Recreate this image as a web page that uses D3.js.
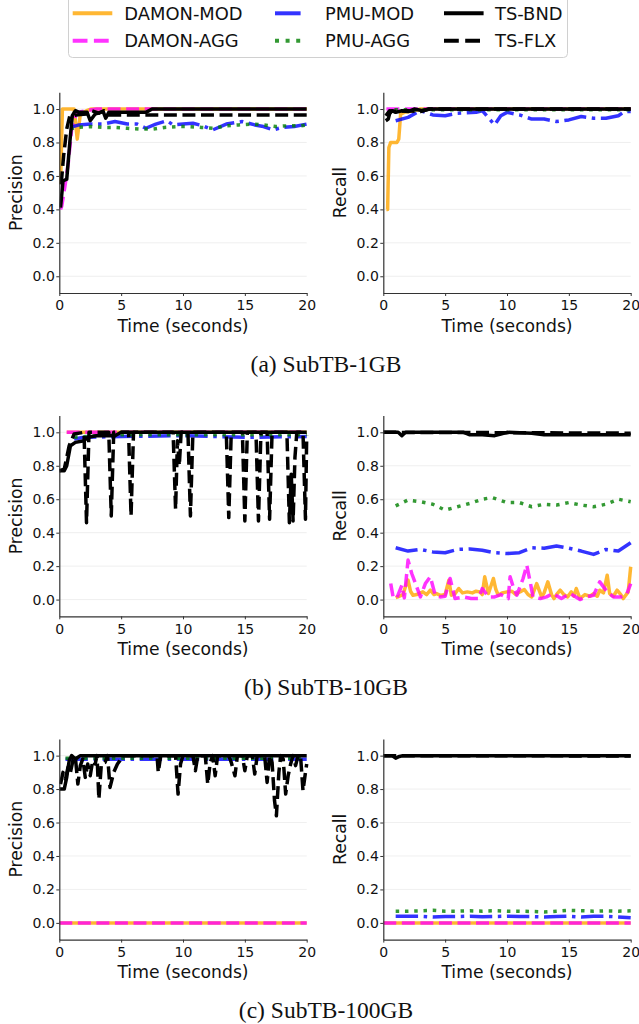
<!DOCTYPE html>
<html><head><meta charset="utf-8">
<script src="https://cdn.jsdelivr.net/npm/d3@7"></script>
<style>
html,body{margin:0;padding:0;background:#fff;}
svg{display:block;}
</style></head>
<body>
<svg id="chart" width="639" height="1024"></svg>
<script>
// ---------- labels ----------
const seriesNames = ["DAMON-MOD","DAMON-AGG","PMU-MOD","PMU-AGG","TS-BND","TS-FLX"];
const captions = ["(a) SubTB-1GB","(b) SubTB-10GB","(c) SubTB-100GB"];
const yTicks = [0.0,0.2,0.4,0.6,0.8,1.0];
const xTicks = [0,5,10,15,20];
const xLabel = "Time (seconds)";
const yLabels = ["Precision","Recall"];

// ---------- data: [time (s), value] ----------
// (a) SubTB-1GB precision
const a_p_damon_mod = [[0.1,0.55],[0.25,1.0],[1.2,1.0],[1.45,0.82],[1.7,0.97],[2.2,0.99],[2.6,1.0],[20,1.0]];
const a_p_damon_agg = [[0.1,0.4],[0.2,0.42],[0.46,0.54],[0.73,0.68],[1.0,0.88],[1.4,0.98],[2.2,0.99],[3.0,1.0],[20,1.0]];
const a_p_pmu_mod = [[0.9,0.89],[1.6,0.905],[2.5,0.91],[3.5,0.91],[4.5,0.925],[5.5,0.91],[6.3,0.91],[7.0,0.885],[7.8,0.91],[8.7,0.93],[9.2,0.905],[10,0.91],[10.8,0.915],[11.6,0.9],[12.4,0.875],[13.5,0.91],[14.8,0.925],[15.8,0.905],[16.5,0.895],[17.3,0.875],[18,0.89],[19,0.895],[20,0.91]];
const a_p_pmu_agg = [[0.9,0.88],[1.4,0.89],[2.5,0.895],[3.5,0.89],[4.5,0.89],[5.5,0.885],[6.5,0.88],[7.5,0.88],[8.5,0.89],[9.5,0.895],[10.5,0.895],[11.5,0.89],[12.5,0.885],[13.5,0.9],[14.5,0.905],[15.5,0.91],[16.5,0.905],[17.5,0.895],[18.5,0.9],[19.5,0.9],[20,0.905]];
const a_p_ts_bnd = [[0.1,0.41],[0.3,0.57],[0.6,0.58],[0.85,0.8],[1.05,0.96],[1.3,0.99],[1.6,0.98],[2.25,0.98],[2.5,0.93],[2.9,0.97],[3.3,0.98],[3.55,0.985],[3.75,0.945],[4.0,0.98],[7.0,0.98],[7.5,1.0],[20,1.0]];
const a_p_ts_flx = [[0.15,0.55],[0.35,0.72],[0.6,0.88],[0.85,0.96],[1.5,0.965],[2.2,0.97],[2.6,0.99],[3.2,0.975],[3.6,0.99],[4.0,0.965],[20,0.965]];
// (a) SubTB-1GB recall
const a_r_damon_mod = [[0.25,0.4],[0.35,0.4],[0.45,0.77],[0.6,0.8],[1.1,0.8],[1.25,0.82],[1.4,0.97],[1.7,0.98],[2.5,0.99],[3,1.0],[20,1.0]];
const a_r_damon_agg = [[0.25,1.0],[20,1.0]];
const a_r_pmu_mod = [[1,0.93],[2,0.95],[3,0.99],[4,0.965],[5,0.96],[6,0.975],[7.5,0.98],[8,0.99],[9,0.905],[9.5,0.96],[10,0.98],[11,0.965],[12,0.94],[13,0.94],[14,0.925],[15,0.935],[16,0.955],[17,0.945],[18,0.945],[19,0.96],[19.5,0.985],[20,0.985]];
const a_r_pmu_agg = [[0.9,0.995],[20,0.995]];
const a_r_ts_bnd = [[0.2,0.93],[0.4,0.94],[0.5,0.97],[0.7,0.99],[1.0,0.98],[1.5,0.99],[2,0.985],[2.5,1.0],[3.2,0.99],[3.7,1.0],[20,1.0]];
const a_r_ts_flx = [[0.2,0.96],[0.5,0.99],[1,0.985],[2,0.99],[3,0.985],[3.7,1.0],[20,1.0]];
// (b) SubTB-10GB precision
const b_p_damon_mod = [[0.6,1.0],[20,1.0]];
const b_p_damon_agg = [[0.6,1.0],[20,1.0]];
const b_p_pmu_mod = [[1.2,0.96],[2,0.97],[5,0.975],[10,0.98],[15,0.97],[20,0.975]];
const b_p_pmu_agg = [[1.2,0.97],[3,0.98],[5,0.985],[10,0.985],[15,0.985],[20,0.985]];
const b_p_ts_bnd = [[0,0.77],[0.4,0.77],[0.6,0.8],[0.9,0.92],[1.3,0.94],[2.0,0.95],[2.3,0.97],[3.0,0.98],[4.5,0.98],[5.0,1.0],[20,1.0]];
const b_p_ts_flx = [[0,0.77],[0.4,0.78],[0.8,0.92],[1.2,0.99],[2.0,1.0],[2.2,0.46],[2.4,1.0],[4.0,1.0],[4.2,0.5],[4.4,1.0],[5.6,1.0],[5.8,0.5],[6.0,1.0],[9.2,1.0],[9.4,0.54],[9.55,0.95],[9.7,0.8],[9.85,1.0],[10.4,1.0],[10.6,0.5],[10.8,1.0],[13.5,1.0],[13.7,0.49],[13.9,1.0],[14.8,1.0],[15.0,0.47],[15.2,1.0],[15.9,1.0],[16.1,0.47],[16.3,1.0],[16.8,1.0],[17.0,0.48],[17.2,1.0],[18.4,1.0],[18.6,0.46],[18.75,0.75],[18.9,0.47],[19.05,0.85],[19.2,1.0],[19.7,1.0],[19.9,0.48],[20,0.98]];
// (b) SubTB-10GB recall
const b_r_damon_mod = [[1.0,0.012],[1.3,0.02],[1.6,0.03],[1.8,0.08],[2.0,0.116],[2.2,0.05],[2.4,0.026],[2.7,0.03],[3.0,0.04],[3.2,0.046],[3.5,0.03],[3.8,0.056],[4.1,0.03],[4.3,0.036],[4.6,0.025],[5.0,0.03],[5.3,0.116],[5.5,0.026],[5.8,0.035],[6.1,0.066],[6.4,0.04],[6.8,0.046],[7.2,0.04],[7.5,0.05],[7.8,0.046],[8.0,0.03],[8.2,0.136],[8.5,0.036],[8.9,0.126],[9.1,0.06],[9.3,0.026],[9.6,0.04],[10.0,0.046],[10.4,0.05],[10.7,0.03],[11.05,0.046],[11.4,0.06],[11.7,0.03],[12.0,0.016],[12.4,0.096],[12.8,0.016],[13.0,0.04],[13.3,0.106],[13.6,0.03],[13.8,0.006],[14.0,0.03],[14.3,0.056],[14.6,0.03],[14.9,0.016],[15.2,0.046],[15.4,0.02],[15.6,0.066],[15.9,0.006],[16.3,0.03],[16.7,0.02],[17.0,0.036],[17.3,0.02],[17.5,0.056],[17.8,0.04],[18.1,0.146],[18.3,0.036],[18.6,0.02],[18.9,0.056],[19.2,0.03],[19.4,0.006],[19.8,0.046],[20.0,0.196]];
const b_r_damon_agg = [[0.6,0.096],[0.8,0.012],[1.1,0.01],[1.5,0.086],[1.7,0.01],[2.0,0.236],[2.3,0.156],[2.7,0.076],[3.0,0.016],[3.4,0.096],[3.8,0.136],[4.2,0.026],[4.6,0.016],[5.0,0.02],[5.4,0.126],[5.8,0.006],[6.5,0.016],[7.1,0.006],[7.7,0.006],[8.0,0.066],[8.5,0.016],[9.0,0.016],[9.5,0.03],[10.1,0.006],[10.25,0.136],[10.5,0.076],[10.8,0.026],[11.3,0.126],[11.6,0.206],[11.9,0.096],[12.1,0.016],[12.7,0.006],[13.2,0.016],[13.7,0.036],[14.4,0.006],[15.1,0.036],[15.9,0.0],[16.4,0.016],[17.0,0.026],[17.5,0.106],[18.1,0.046],[18.6,0.016],[19.2,0.016],[19.7,0.036],[20.0,0.096]];
const b_r_pmu_mod = [[1,0.31],[2,0.29],[3,0.30],[4,0.285],[5,0.28],[6,0.30],[7,0.303],[8,0.295],[9,0.28],[10,0.275],[11,0.28],[12,0.31],[13,0.307],[14,0.32],[15,0.307],[16,0.29],[17,0.27],[18,0.30],[19,0.29],[20,0.34]];
const b_r_pmu_agg = [[1,0.56],[2,0.595],[3,0.585],[4,0.57],[5,0.535],[6,0.555],[7,0.575],[8,0.6],[8.8,0.61],[10,0.58],[11,0.58],[12,0.555],[13,0.57],[14,0.565],[15,0.58],[16,0.565],[17,0.555],[18,0.57],[19,0.6],[20,0.585]];
const b_r_ts_bnd = [[0,1.0],[1.2,1.0],[1.5,0.98],[1.8,1.0],[6.5,1.0],[7.0,0.985],[8,0.985],[9,0.98],[9.5,0.99],[10,1.0],[12,0.995],[13,0.985],[15,0.985],[20,0.985]];
const b_r_ts_flx = [[0,1.0],[10,0.998],[20,0.995]];
// (c) SubTB-100GB precision
const c_p_damon_mod = [[0,0.0],[20,0.0]];
const c_p_damon_agg = [[0,0.0],[20,0.0]];
const c_p_pmu_mod = [[0.5,0.978],[5,0.978],[10,0.978],[15,0.978],[20,0.978]];
const c_p_pmu_agg = [[0.5,0.984],[5,0.984],[10,0.984],[15,0.984],[20,0.984]];
const c_p_ts_bnd = [[0,0.8],[0.4,0.8],[0.6,0.87],[0.8,0.97],[1.0,1.0],[1.3,0.98],[1.7,1.0],[20,1.0]];
const c_p_ts_flx = [[0.1,0.83],[0.3,0.9],[0.5,0.86],[0.7,0.93],[0.9,0.9],[1.1,0.97],[1.3,0.99],[1.5,0.83],[1.7,0.94],[1.9,0.98],[2.1,0.87],[2.3,0.95],[2.5,0.88],[2.7,0.97],[2.9,0.95],[3.05,1.0],[3.2,0.74],[3.4,0.95],[3.7,0.96],[3.9,1.0],[4.1,0.81],[4.4,0.9],[4.7,0.95],[4.9,0.97],[5.1,1.0],[7.9,1.0],[8.0,0.9],[8.2,1.0],[9.4,1.0],[9.6,0.77],[9.8,0.95],[10.0,1.0],[10.8,1.0],[11.0,0.91],[11.2,1.0],[11.8,1.0],[12.0,0.83],[12.2,0.96],[12.4,1.0],[12.6,0.88],[12.8,1.0],[13.7,1.0],[13.9,0.96],[14.2,0.88],[14.4,1.0],[14.8,1.0],[15.0,0.91],[15.2,1.0],[15.6,1.0],[15.8,0.89],[16.0,1.0],[16.6,1.0],[16.8,0.84],[17.0,1.0],[17.2,0.96],[17.4,0.73],[17.55,0.64],[17.75,0.9],[17.9,1.0],[18.1,0.98],[18.3,0.77],[18.5,0.88],[18.7,0.95],[18.9,1.0],[19.1,0.94],[19.3,1.0],[19.5,1.0],[19.7,0.79],[19.9,0.9],[20,0.95]];
// (c) SubTB-100GB recall
const c_r_damon_mod = [[0,0.0],[20,0.0]];
const c_r_damon_agg = [[0,0.0],[20,0.0]];
const c_r_pmu_mod = [[1,0.04],[2,0.04],[3,0.04],[4,0.035],[5,0.038],[6,0.038],[7,0.04],[8,0.037],[9,0.038],[10,0.04],[11,0.038],[12,0.038],[13,0.035],[14,0.038],[15,0.04],[16,0.035],[17,0.04],[18,0.04],[19,0.035],[20,0.03]];
const c_r_pmu_agg = [[1,0.07],[2,0.07],[3,0.072],[4,0.075],[5,0.07],[6,0.07],[7,0.072],[8,0.07],[9,0.073],[10,0.07],[11,0.07],[12,0.068],[13,0.065],[14,0.07],[15,0.075],[16,0.073],[17,0.07],[18,0.072],[19,0.07],[20,0.072]];
const c_r_ts_bnd = [[0,1.0],[0.7,1.0],[1.0,0.985],[1.3,0.995],[1.6,1.0],[20,1.0]];
const c_r_ts_flx = [[0,1.0],[20,0.998]];

// ---------- styles ----------
const LW = 3.5;
const styles = [
  {color:"#FFA500", op:0.8, dash:null},
  {color:"#FF00FF", op:0.8, dash:[3.7,1.6]},
  {color:"#0000FF", op:0.8, dash:[6.4,1.6,1,1.6]},
  {color:"#008000", op:0.8, dash:[1,1.65]},
  {color:"#000000", op:1, dash:null},
  {color:"#000000", op:1, dash:[3.7,1.6]}
];

const panelData = [
  [[a_p_damon_mod,a_p_damon_agg,a_p_pmu_mod,a_p_pmu_agg,a_p_ts_bnd,a_p_ts_flx],
   [a_r_damon_mod,a_r_damon_agg,a_r_pmu_mod,a_r_pmu_agg,a_r_ts_bnd,a_r_ts_flx]],
  [[b_p_damon_mod,b_p_damon_agg,b_p_pmu_mod,b_p_pmu_agg,b_p_ts_bnd,b_p_ts_flx],
   [b_r_damon_mod,b_r_damon_agg,b_r_pmu_mod,b_r_pmu_agg,b_r_ts_bnd,b_r_ts_flx]],
  [[c_p_damon_mod,c_p_damon_agg,c_p_pmu_mod,c_p_pmu_agg,c_p_ts_bnd,c_p_ts_flx],
   [c_r_damon_mod,c_r_damon_agg,c_r_pmu_mod,c_r_pmu_agg,c_r_ts_bnd,c_r_ts_flx]]
];

const svg = d3.select("#chart");
const FONT = "DejaVu Sans, sans-serif";

// ---------- legend ----------
const lg = svg.append("g");
lg.append("rect").attr("x",68.5).attr("y",-6).attr("width",499).attr("height",63.5)
  .attr("rx",4).attr("fill","#fff").attr("stroke","#d0d0d0").attr("stroke-width",1);
const colX = [72.7, 275, 444];
const rowY = [13.3, 40.7];
seriesNames.forEach((name,i)=>{
  const c = Math.floor(i/2), r = i%2, st = styles[i];
  const lw = 4;
  const x0 = colX[c], x1 = colX[c] + (c===1 ? 28 : 39.6);
  const ln = lg.append("line").attr("x1",x0).attr("x2",x1).attr("y1",rowY[r]).attr("y2",rowY[r])
    .attr("stroke",st.color).attr("stroke-opacity",st.op).attr("stroke-width",lw);
  if(st.dash) ln.attr("stroke-dasharray",st.dash.map(d=>d*lw).join(","));
  lg.append("text").attr("x",[124.3,325,495][c]).attr("y",rowY[r]).attr("dy","0.36em")
    .attr("font-family",FONT).attr("font-size","17.9px").attr("fill","#111").text(name);
});

// ---------- panels ----------
const colLeft = [59.3, 383.3];
const plotW = 247.4;
const rowTop = [92.3, 415.6, 738.9];
const plotH = 200.7;

panelData.forEach((row,ri)=>{
  row.forEach((seriesSet,ci)=>{
    const x0 = colLeft[ci], y0 = rowTop[ri];
    const x = d3.scaleLinear().domain([0,20]).range([x0, x0+plotW]);
    const y = d3.scaleLinear().domain([-0.1,1.1]).range([y0+plotH, y0]);
    const g = svg.append("g");
    // grid
    g.selectAll("line.grid").data(yTicks).enter().append("line")
      .attr("x1",x0).attr("x2",x0+plotW).attr("y1",d=>y(d)).attr("y2",d=>y(d))
      .attr("stroke","#ebebeb").attr("stroke-width",0.8);
    // lines
    const line = d3.line().x(d=>x(d[0])).y(d=>y(d[1]));
    const clipId = "clip"+ri+ci;
    g.append("clipPath").attr("id",clipId).append("rect")
      .attr("x",x0).attr("y",y0-5).attr("width",plotW+3).attr("height",plotH+5);
    const lines = g.append("g").attr("clip-path","url(#"+clipId+")");
    seriesSet.forEach((data,si)=>{
      const st = styles[si];
      const p = lines.append("path").datum(data).attr("d",line)
        .attr("fill","none").attr("stroke",st.color).attr("stroke-opacity",st.op)
        .attr("stroke-width",LW).attr("stroke-linejoin","round");
      if(st.dash) p.attr("stroke-dasharray",st.dash.map(d=>d*LW).join(","));
    });
    // axes
    const ax = g.append("g").attr("transform",`translate(0,${y0+plotH})`)
      .call(d3.axisBottom(x).tickValues(xTicks).tickFormat(d3.format("d")).tickSize(3).tickPadding(4.5).tickSizeOuter(0));
    const ay = g.append("g").attr("transform",`translate(${x0},0)`)
      .call(d3.axisLeft(y).tickValues(yTicks).tickFormat(d3.format(".1f")).tickSize(3).tickPadding(1.5).tickSizeOuter(0));
    [ax,ay].forEach(a=>{
      a.select(".domain").attr("stroke","#333").attr("stroke-width",1.2);
      a.selectAll(".tick line").attr("stroke","#333").attr("stroke-width",1);
      a.selectAll(".tick text").attr("font-family",FONT).attr("font-size","14px").attr("fill","#111");
    });
    // labels
    g.append("text").attr("x",x0+plotW/2).attr("y",y0+plotH+38.5).attr("text-anchor","middle")
      .attr("font-family",FONT).attr("font-size","17.2px").attr("fill","#111").text(xLabel);
    g.append("text").attr("transform",`translate(${ci===0?22.3:346},${y0+plotH/2}) rotate(-90)`)
      .attr("text-anchor","middle").attr("font-family",FONT).attr("font-size","17.2px").attr("fill","#111")
      .text(yLabels[ci]);
  });
  svg.append("text").attr("x",326).attr("y",371.7+ri*323.3).attr("text-anchor","middle")
    .attr("font-family","Liberation Serif, Times New Roman, serif").attr("font-size","23.5px").attr("fill","#111")
    .text(captions[ri]);
});
</script>
</body></html>
